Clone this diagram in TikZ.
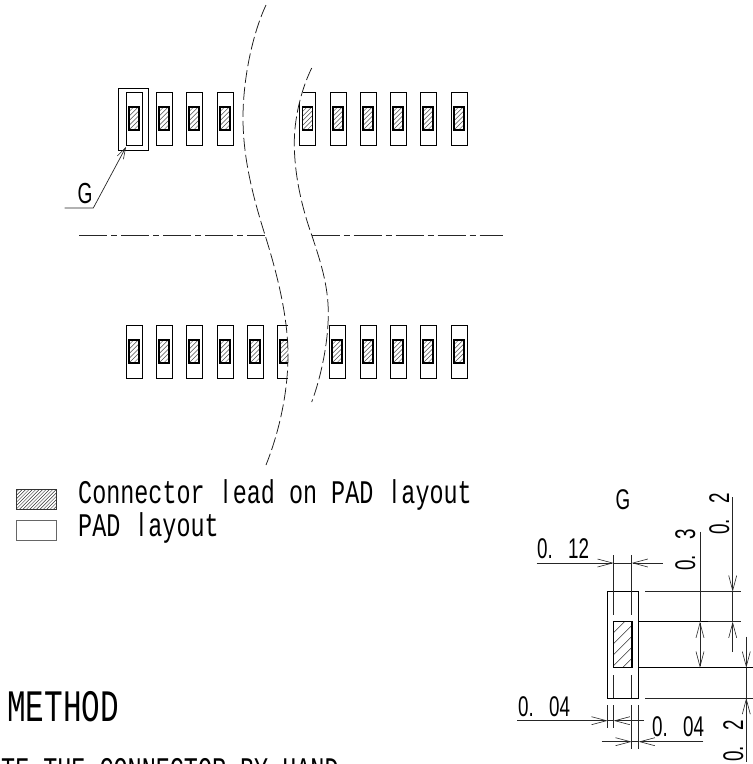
\documentclass[tikz,border=0pt]{standalone}
\usepackage{fontspec}
\usetikzlibrary{arrows.meta}
\newfontfamily\fleg[FakeStretch=0.71]{Liberation Mono}
\newfontfamily\fbar[FakeStretch=0.7]{Liberation Sans}
\newfontfamily\fdim[FakeStretch=0.66]{Liberation Sans}
\newfontfamily\fhead[FakeStretch=0.69]{Liberation Mono}
\newcommand{\barl}{\makebox[14pt][c]{\fbar l}}
\newcommand{\dimgap}{~\hspace{10pt}}
\tikzset{
  padline/.style={draw=black,line width=1pt},
  leadline/.style={draw=black,line width=1.1pt},
  hatchline/.style={draw=black!70,line width=0.5pt},
  dimline/.style={draw=black!85,line width=0.7pt},
  barb/.style={-{Straight Barb[length=15pt,width=8pt,line width=0.6pt]}},
  gbarb/.style={-{Straight Barb[length=11pt,width=7pt,line width=0.6pt]}},
  breakline/.style={draw=black!90,line width=0.75pt,dash pattern=on 13pt off 4pt},
  centerline/.style={draw=black!85,line width=0.75pt,dash pattern=on 28pt off 4pt on 6pt off 4pt},
  legendtext/.style={inner sep=0pt,anchor=base west,font=\fleg\fontsize{33}{33}\selectfont},
  dimtext/.style={inner sep=0pt,anchor=base west,font=\fdim\fontsize{28.5}{28.5}\selectfont},
  headtext/.style={inner sep=0pt,anchor=base west,font=\fhead\fontsize{45}{45}\selectfont}
}
\newcommand{\hatchrect}[6][hatchline]{%
  \begin{scope}
    \clip (#2,#3) rectangle (#4,#5);
    \pgfmathsetmacro\hatchh{#5-#3}
    \pgfmathsetmacro\hatchs{#2-\hatchh}
    \pgfmathsetmacro\hatchn{\hatchs+#6}
    \foreach \hatchd in {\hatchs,\hatchn,...,#4}{
      \draw[#1] (\hatchd,#5) -- ++(\hatchh,-\hatchh);
    }
  \end{scope}}
\newcommand{\padat}[3]{%
  \draw[padline] (#1,#2) rectangle (#1+16,#3);
  \leadat{#1+3}{#2+15}{#1+13}{#2+38}}
\newcommand{\leadat}[4]{%
  \pgfmathsetmacro\lxa{#1}\pgfmathsetmacro\lya{#2}\pgfmathsetmacro\lxb{#3}\pgfmathsetmacro\lyb{#4}
  \hatchrect{\lxa}{\lya}{\lxb}{\lyb}{4.6}
  \draw[leadline] (\lxa,\lya) rectangle (\lxb,\lyb);}
\begin{document}
\begin{tikzpicture}[x=1pt,y=-1pt]
\useasboundingbox (0,0) rectangle (753,764);
\clip (0,0) rectangle (753,764);
% top row
\foreach \px in {126,156,186,217,330,360,390,420,451}{\padat{\px}{92}{145}}
\draw[padline] (303,92) -| (315,145) -| (299,103);
\leadat{302.5}{107}{312.5}{130}
\draw[line width=0.8pt] (118,88) rectangle (148.5,150.5);
% bottom row
\foreach \px in {126,156,186,217,247,329,360,390,420,451}{\padat{\px}{325}{378}}
\draw[padline] (288,325) -| (277,378) -- (288,378);
\hatchrect{280}{340}{288}{363}{4.6}
\draw[leadline] (288,340) -| (280,363) -- (288,363);
% G leader
\node[inner sep=0pt,anchor=base,font=\fdim\fontsize{29}{29}\selectfont] (gleft) at (85,203) {G};
\coordinate (gstart) at (64.7,208);
\coordinate (gknee) at (93.3,208);
\coordinate (gtip) at (126,147);
\draw[dimline,gbarb] (gstart) -- (gknee) -- (gtip);
% break lines
\draw[breakline] (266,5) .. controls (252,35) and (243,80) .. (243,118)
  .. controls (243,160) and (254,200) .. (265,235)
  .. controls (276,270) and (288,315) .. (288,355)
  .. controls (288,395) and (278,435) .. (266,465);
\draw[breakline] (311.7,68) .. controls (301,90) and (294.3,118) .. (294.3,143)
  .. controls (294.3,175) and (302,208) .. (311.7,235)
  .. controls (320,260) and (328.3,285) .. (328.3,313)
  .. controls (328.3,345) and (320,380) .. (311.7,402);
% centre line
\draw[centerline] (79,235) -- (265,235);
\draw[centerline] (311.7,235) -- (503,235);
% legend
\hatchrect[{draw=black!80,line width=0.45pt}]{16}{489}{56}{509.5}{3.4}
\draw[draw=black!80,line width=0.7pt] (16,489) rectangle (56,509.5);
\draw[draw=black!60,line width=0.8pt] (16,520) rectangle (56,540);
\node[legendtext] (leg1) at (78,503.5) {Connector \barl ead on PAD \barl ayout};
\node[legendtext] (leg2) at (78,536) {PAD \barl ayout};
\node[headtext] (method) at (7,721.7) {METHOD};
\node[legendtext] (note) at (1,780) {TE THE CONNECTOR BY HAND};
% detail G
\node[inner sep=0pt,anchor=base,font=\fdim\fontsize{28.5}{28.5}\selectfont] (gdetail) at (623,509) {G};
\draw[line width=1pt] (607.7,591.7) rectangle (638.7,698);
\hatchrect[{draw=black!80,line width=0.55pt}]{613.5}{621.7}{632}{667.7}{11}
\draw[line width=1.1pt] (613.5,621.7) rectangle (632,667.7);
% extension lines
\draw[dimline] (613.7,555) -- (613.7,615);
\draw[dimline] (631.7,555) -- (631.7,615);
\draw[dimline] (613.7,675) -- (613.7,698);
\draw[dimline] (631.7,675) -- (631.7,698);
\draw[dimline] (607.7,705) -- (607.7,728);
\draw[dimline] (613.7,705) -- (613.7,728);
\draw[dimline] (631.7,705) -- (631.7,749);
\draw[dimline] (638.7,705) -- (638.7,749);
\draw[dimline] (645,591.7) -- (740.7,591.7);
\draw[line width=0.9pt] (638.7,621.7) -- (708,621.7);
\draw[dimline] (708,621.7) -- (740.7,621.7);
\draw[line width=0.9pt] (638.7,667.7) -- (753,667.7);
\draw[dimline] (645,698) -- (753,698);
% horizontal dimensions
\draw[dimline,barb] (536.7,563) -- (613.7,563);
\draw[dimline,barb] (662.7,563) -- (631.7,563);
\draw[dimline] (613.7,563) -- (631.7,563);
\draw[dimline,barb] (517,720.7) -- (607.7,720.7);
\draw[dimline,barb] (644,720.7) -- (613.7,720.7);
\draw[dimline] (607.7,720.7) -- (613.7,720.7);
\draw[dimline,barb] (601.7,741.7) -- (631.7,741.7);
\draw[dimline,barb] (703.3,741.7) -- (638.7,741.7);
\draw[dimline] (631.7,741.7) -- (638.7,741.7);
% vertical dimensions
\draw[dimline] (700,531.7) -- (700,621.7);
\draw[dimline,{Straight Barb[length=15pt,width=8pt,line width=0.6pt]}-{Straight Barb[length=15pt,width=8pt,line width=0.6pt]}] (700,621.7) -- (700,667.7);
\draw[dimline,barb] (732.7,497) -- (732.7,591.7);
\draw[dimline,barb] (732.7,652) -- (732.7,621.7);
\draw[dimline] (732.7,591.7) -- (732.7,621.7);
\draw[dimline,barb] (746.3,636.7) -- (746.3,667.7);
\draw[dimline,barb] (746.3,761.7) -- (746.3,698);
\draw[dimline] (746.3,667.7) -- (746.3,698);
% dimension texts
\node[dimtext] (d012) at (537,558) {0.\dimgap 12};
\node[dimtext] (d004a) at (518,716) {0.\dimgap 04};
\node[dimtext] (d004b) at (652,736.7) {0.\dimgap 04};
\node[dimtext,rotate=90] (d03) at (695,571) {0.\dimgap 3};
\node[dimtext,rotate=90] (d02a) at (729,535) {0.\dimgap 2};
\node[dimtext,rotate=90] (d02b) at (743,762) {0.\dimgap 2};
\end{tikzpicture}
\end{document}
